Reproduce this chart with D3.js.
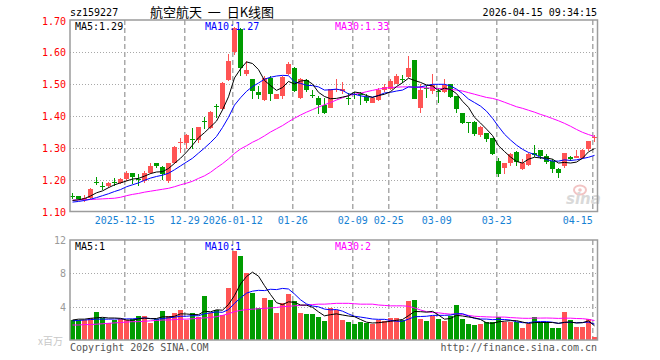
<!DOCTYPE html>
<html><head><meta charset="utf-8">
<script src="https://cdn.jsdelivr.net/npm/d3@7/dist/d3.min.js"></script>
<style>
html,body{margin:0;padding:0;background:#fff;}
svg{display:block;}
text{font-family:"DejaVu Sans Mono","Liberation Mono",monospace;}
</style></head><body>
<svg id="c" width="660" height="360"></svg>
<script>
const code = "sz159227";
const title = "航空航天  一  日K线图";
const stamp = "2026-04-15 09:34:15";
const dates = ["2025-12-02","2025-12-03","2025-12-04","2025-12-05","2025-12-08","2025-12-09","2025-12-10","2025-12-11","2025-12-12","2025-12-15","2025-12-16","2025-12-17","2025-12-18","2025-12-19","2025-12-22","2025-12-23","2025-12-24","2025-12-25","2025-12-26","2025-12-29","2025-12-30","2025-12-31",
"2026-01-05","2026-01-06","2026-01-07","2026-01-08","2026-01-09","2026-01-12","2026-01-13","2026-01-14","2026-01-15","2026-01-16","2026-01-19","2026-01-20","2026-01-21","2026-01-22","2026-01-23","2026-01-26","2026-01-27","2026-01-28","2026-01-29","2026-01-30",
"2026-02-02","2026-02-03","2026-02-04","2026-02-05","2026-02-06","2026-02-09","2026-02-10","2026-02-11","2026-02-12","2026-02-13","2026-02-24","2026-02-25","2026-02-26","2026-02-27",
"2026-03-02","2026-03-03","2026-03-04","2026-03-05","2026-03-06","2026-03-09","2026-03-10","2026-03-11","2026-03-12","2026-03-13","2026-03-16","2026-03-17","2026-03-18","2026-03-19","2026-03-20","2026-03-23","2026-03-24","2026-03-25","2026-03-26","2026-03-27","2026-03-30","2026-03-31",
"2026-04-01","2026-04-02","2026-04-03","2026-04-07","2026-04-08","2026-04-09","2026-04-10","2026-04-13","2026-04-14","2026-04-15"];
const open  = [1.151,1.150,1.137,1.145,1.195,1.180,1.181,1.193,1.190,1.202, 1.223,1.203,1.197,1.223,1.252,1.242,1.197,1.252,1.317,1.317, 1.328,1.324,1.385,1.364,1.432,1.421,1.511,1.600,1.671,1.530, 1.515,1.476,1.449,1.520,1.454,1.462,1.530,1.551,1.455,1.511, 1.465,1.455,1.434,1.426,1.480,1.477,1.457,1.470,1.468,1.459, 1.440,1.449,1.480,1.483,1.501,1.515,1.522,1.574,1.424,1.489, 1.478,1.477,1.476,1.499,1.462,1.410,1.380,1.382,1.340,1.346, 1.330,1.259,1.236,1.252,1.289,1.233,1.247,1.285,1.294,1.275, 1.259,1.233,1.244,1.272,1.270,1.270,1.298,1.333];
const high  = [1.158,1.151,1.152,1.176,1.209,1.194,1.194,1.205,1.207,1.228, 1.223,1.218,1.228,1.254,1.253,1.245,1.253,1.305,1.330,1.343, 1.364,1.367,1.397,1.416,1.439,1.505,1.593,1.678,1.675,1.572, 1.516,1.494,1.525,1.525,1.470,1.524,1.569,1.553,1.518,1.515, 1.480,1.462,1.457,1.485,1.515,1.506,1.473,1.476,1.476,1.470, 1.459,1.489,1.501,1.515,1.530,1.528,1.588,1.575,1.499,1.494, 1.530,1.486,1.517,1.501,1.462,1.410,1.381,1.383,1.368,1.348, 1.332,1.268,1.254,1.285,1.290,1.265,1.285,1.309,1.294,1.282, 1.265,1.239,1.285,1.275,1.293,1.296,1.322,1.341];
const low   = [1.142,1.136,1.130,1.140,1.184,1.168,1.176,1.181,1.186,1.197, 1.186,1.181,1.190,1.220,1.236,1.200,1.192,1.250,1.285,1.296, 1.296,1.317,1.358,1.360,1.395,1.418,1.510,1.590,1.525,1.525, 1.452,1.452,1.447,1.447,1.452,1.452,1.528,1.476,1.452,1.476, 1.457,1.405,1.407,1.424,1.476,1.468,1.434,1.452,1.434,1.440, 1.440,1.447,1.476,1.480,1.500,1.504,1.520,1.452,1.410,1.457, 1.470,1.442,1.473,1.457,1.410,1.374,1.348,1.337,1.335,1.320, 1.278,1.209,1.218,1.244,1.244,1.230,1.244,1.272,1.265,1.249, 1.223,1.207,1.239,1.259,1.270,1.265,1.290,1.320];
const close = [1.150,1.140,1.145,1.173,1.193,1.179,1.190,1.192,1.202,1.221, 1.210,1.202,1.223,1.244,1.244,1.218,1.252,1.304,1.320,1.341, 1.327,1.367,1.383,1.413,1.430,1.504,1.572,1.675,1.551,1.543, 1.478,1.466,1.518,1.470,1.468,1.523,1.562,1.478,1.515,1.480, 1.464,1.434,1.410,1.483,1.485,1.485,1.452,1.469,1.467,1.447, 1.455,1.480,1.491,1.509,1.525,1.514,1.551,1.454,1.480,1.488, 1.497,1.476,1.496,1.460,1.421,1.379,1.379,1.343,1.366,1.327, 1.280,1.220,1.252,1.282,1.257,1.254,1.282,1.278,1.275,1.257, 1.233,1.223,1.285,1.265,1.275,1.293,1.322,1.335];
const ma5  = [1.136,1.138,1.142,1.150,1.160,1.166,1.176,1.185,1.191,1.197, 1.203,1.205,1.212,1.220,1.225,1.226,1.236,1.252,1.268,1.287, 1.309,1.332,1.348,1.366,1.384,1.419,1.460,1.519,1.547,1.569, 1.564,1.545,1.511,1.495,1.480,1.489,1.508,1.500,1.509,1.512, 1.500,1.474,1.461,1.454,1.455,1.459,1.463,1.475,1.472,1.464, 1.458,1.464,1.468,1.476,1.492,1.504,1.518,1.511,1.505,1.497, 1.494,1.479,1.487,1.483,1.470,1.446,1.427,1.396,1.378,1.359, 1.339,1.307,1.289,1.272,1.258,1.253,1.265,1.271,1.269,1.269, 1.265,1.253,1.255,1.253,1.256,1.268,1.288,1.298];
const ma10 = [1.131,1.133,1.136,1.140,1.145,1.151,1.157,1.164,1.170,1.179, 1.185,1.191,1.199,1.206,1.211,1.215,1.221,1.232,1.244,1.256, 1.268,1.284,1.300,1.317,1.336,1.364,1.396,1.434,1.457,1.477, 1.492,1.503,1.515,1.521,1.525,1.527,1.526,1.506,1.502,1.496, 1.495,1.491,1.481,1.482,1.484,1.480,1.469,1.468,1.463,1.460, 1.459,1.464,1.472,1.474,1.478,1.481,1.491,1.490,1.491,1.495, 1.499,1.499,1.499,1.494,1.484,1.470,1.453,1.442,1.431,1.415, 1.393,1.367,1.343,1.325,1.309,1.296,1.286,1.280,1.271,1.264, 1.259,1.259,1.263,1.261,1.263,1.267,1.271,1.277];
const ma30 = [1.137,1.138,1.138,1.139,1.140,1.141,1.142,1.143,1.146,1.151, 1.155,1.158,1.162,1.165,1.168,1.171,1.174,1.179,1.185,1.190, 1.196,1.205,1.213,1.224,1.238,1.251,1.266,1.283,1.297,1.307, 1.318,1.327,1.338,1.350,1.360,1.370,1.382,1.393,1.403,1.412, 1.420,1.428,1.435,1.442,1.450,1.457,1.464,1.468,1.471,1.476, 1.480,1.484,1.487,1.489,1.490,1.491,1.491,1.490,1.489,1.488, 1.487,1.486,1.485,1.483,1.481,1.478,1.473,1.468,1.463,1.458, 1.455,1.450,1.443,1.436,1.429,1.424,1.418,1.412,1.405,1.399, 1.392,1.385,1.377,1.368,1.358,1.349,1.342,1.336];
const volume = [2.4,2.4,2.4,2.7,3.4,2.7,2.0,2.4,2.5,2.4, 2.5,2.9,2.9,2.1,2.5,3.5,2.9,3.2,3.6,2.4, 3.2,2.8,5.3,3.2,3.6,3.0,6.2,10.7,10.1,8.1, 5.6,3.8,5.0,4.8,3.2,4.4,5.5,4.7,3.2,3.1, 3.1,2.8,2.3,3.9,3.6,2.4,2.2,1.9,2.2,2.0, 1.9,2.4,2.3,2.6,2.6,2.4,4.7,4.8,2.5,2.3, 2.9,2.5,2.3,2.9,4.2,2.5,1.9,1.8,1.9,2.2, 2.2,2.8,2.2,2.2,2.2,1.4,1.9,2.8,2.2,2.2, 1.4,1.4,3.4,2.4,1.6,1.6,2.5,0.4];
const volMa5  = [2.40,2.50,2.50,2.60,2.66,2.72,2.64,2.64,2.60,2.40, 2.36,2.54,2.64,2.56,2.58,2.78,2.78,2.84,3.14,3.12, 3.06,3.04,3.46,3.38,3.62,3.58,4.26,5.34,6.72,7.62, 8.14,7.66,6.52,5.46,4.48,4.24,4.58,4.52,4.20,4.18, 3.92,3.38,2.90,3.04,3.14,3.00,2.88,2.80,2.46,2.14, 2.04,2.08,2.16,2.24,2.36,2.46,2.92,3.42,3.40,3.34, 3.44,3.00,2.50,2.58,2.96,2.88,2.76,2.66,2.46,2.06, 2.00,2.18,2.26,2.32,2.32,2.16,1.98,2.10,2.10,2.10, 2.10,2.00,2.12,2.16,2.04,2.08,2.30,1.70];
const volMa10 = [2.30,2.35,2.40,2.45,2.50,2.50,2.50,2.52,2.53,2.53, 2.54,2.59,2.64,2.58,2.49,2.57,2.66,2.74,2.85,2.85, 2.92,2.91,3.15,3.26,3.37,3.32,3.65,4.40,5.05,5.62, 5.86,5.96,5.93,6.09,6.05,6.19,6.12,5.52,4.83,4.33, 4.08,3.98,3.71,3.62,3.66,3.46,3.13,2.85,2.75,2.64, 2.52,2.48,2.48,2.35,2.25,2.25,2.50,2.79,2.82,2.85, 2.95,2.96,2.96,2.99,3.15,3.16,2.88,2.58,2.52,2.51, 2.44,2.47,2.46,2.39,2.19,2.08,2.08,2.18,2.21,2.21, 2.13,1.99,2.11,2.13,2.07,2.09,2.15,1.91];
const volMa30 = [1.80,1.80,1.85,1.85,1.90,1.95,2.00,2.05,2.10,2.15, 2.20,2.20,2.25,2.30,2.35,2.40,2.40,2.45,2.50,2.50, 2.55,2.60,2.65,2.70,2.80,2.95,3.15,3.40,3.55,3.65, 3.70,3.75,3.80,3.85,3.90,4.00,4.05,4.10,4.15,4.20, 4.25,4.30,4.30,4.35,4.40,4.40,4.40,4.35,4.30,4.30, 4.30,4.20,4.15,4.10,4.10,4.10,4.05,3.85,3.60,3.40, 3.30,3.26,3.17,3.10,3.14,3.07,2.95,2.85,2.81,2.78, 2.75,2.75,2.75,2.69,2.65,2.61,2.60,2.63,2.63,2.64, 2.62,2.59,2.62,2.62,2.58,2.56,2.48,2.34];
const priceTicks = [1.10,1.20,1.30,1.40,1.50,1.60,1.70];
const volTicks = [4,8,12];
const tickDates  = ["2025-12-15","2025-12-29","2026-01-12","2026-01-26","2026-02-09","2026-02-25","2026-03-09","2026-03-23","2026-04-15"];
const tickLabels = ["2025-12-15","12-29","2026-01-12","01-26","02-09","02-25","03-09","03-23","04-15"];
const priceLegend = ["MA5:1.29","MA10:1.27","MA30:1.33"];
const volLegend = ["MA5:1","MA10:1","MA30:2"];
const volUnit = "x百万";
const copyright = "Copyright 2026 SINA.COM";
const siteUrl = "http://finance.sina.com.cn";

const RED = "#ff5454", GREEN = "#009c00";
const L = 70, R = 597.5;
const svg = d3.select("#c");
const n = dates.length;
const x = d3.scaleBand().domain(d3.range(n)).range([70, 597]).paddingInner(1/6).paddingOuter(0);
const cx = i => x(i) + 2.5;
const y = d3.scaleLinear().domain([1.10, 1.70]).range([212, 20]);
const yv = d3.scaleLinear().domain([0, 12]).range([340, 240]);
const tickIdx = tickDates.map(d => dates.indexOf(d));

// header texts
svg.append("text").attr("x", 70).attr("y", 16).attr("font-size", 10).attr("fill", "#000").text(code);
svg.append("text").attr("x", 150).attr("y", 16.5).attr("font-size", 13).style("white-space", "pre")
  .style("font-family", '"Noto Sans CJK SC","Noto Sans",sans-serif').attr("fill", "#000").text(title);
svg.append("text").attr("x", 597).attr("y", 16).attr("text-anchor", "end").attr("font-size", 10).attr("fill", "#000").text(stamp);

function panel(top, bottom, hTicks, ys) {
  const g = svg.append("g");
  g.selectAll("line.h").data(hTicks).join("line")
    .attr("x1", L).attr("x2", R).attr("y1", d => Math.round(ys(d)) + 0.5).attr("y2", d => Math.round(ys(d)) + 0.5)
    .attr("stroke", "#a8a8a8").attr("stroke-width", 1).attr("stroke-dasharray", "1,2");
  g.selectAll("line.v").data(tickIdx).join("line")
    .attr("x1", i => x(i) + 0.75).attr("x2", i => x(i) + 0.75).attr("y1", top).attr("y2", bottom)
    .attr("stroke", "#aaaaaa").attr("stroke-width", 1.5).attr("stroke-dasharray", "5,3");
  return g;
}
panel(20, 211.5, [1.20,1.30,1.40,1.50,1.60], y);
panel(240, 340, [4,8], yv);

// sina watermark
const wm = svg.append("g");
wm.append("ellipse").attr("cx", 580).attr("cy", 190).attr("rx", 6).attr("ry", 4.5).attr("fill", "none").attr("stroke", "#f2c4c4").attr("stroke-width", 2);
wm.append("circle").attr("cx", 580).attr("cy", 190).attr("r", 1.8).attr("fill", "#f2c4c4");
wm.append("text").attr("x", 566).attr("y", 204).attr("font-size", 15).attr("font-weight", "bold").attr("font-style", "italic")
  .style("font-family", '"DejaVu Sans",sans-serif').attr("fill", "#d9d9d9").text("sina");

// price axis labels
svg.append("g").selectAll("text").data(priceTicks).join("text")
  .attr("x", 66).attr("y", d => y(d) + (d === 1.70 ? 5 : 4)).attr("text-anchor", "end")
  .attr("font-size", 10).attr("fill", "#ff0000").text(d => d3.format(".2f")(d));

// volume axis labels
svg.append("g").selectAll("text").data(volTicks).join("text")
  .attr("x", 66).attr("y", d => yv(d) + 4).attr("text-anchor", "end")
  .attr("font-size", 10).attr("fill", "#9a9a9a").text(d => d);
svg.append("text").attr("x", 38).attr("y", 345).attr("font-size", 10)
  .style("font-family", '"Noto Sans CJK SC",sans-serif').attr("fill", "#c8c8c8").text(volUnit);

// date labels
const lab = svg.append("g");
tickIdx.forEach((i, k) => {
  const w = tickLabels[k].length * 6.02;
  const gx = x(i) + 0.75;
  const over = gx + w / 2 > 597;
  lab.append("text").attr("x", gx).attr("y", 224)
    .attr("text-anchor", over ? "end" : "middle").attr("font-size", 10).attr("fill", "#1682d4").text(tickLabels[k]);
});

// candles
const cg = svg.append("g");
const up = i => close[i] >= open[i];
cg.selectAll("line").data(d3.range(n)).join("line")
  .attr("x1", i => cx(i)).attr("x2", i => cx(i))
  .attr("y1", i => y(high[i])).attr("y2", i => y(low[i]))
  .attr("stroke", i => up(i) ? RED : GREEN).attr("stroke-width", 1).attr("shape-rendering", "crispEdges");
cg.selectAll("rect").data(d3.range(n)).join("rect")
  .attr("x", i => x(i)).attr("width", x.bandwidth())
  .attr("y", i => y(Math.max(open[i], close[i])))
  .attr("height", i => Math.max(1, Math.abs(y(open[i]) - y(close[i]))))
  .attr("fill", i => up(i) ? RED : GREEN).attr("shape-rendering", "crispEdges");

// volume bars
svg.append("g").selectAll("rect").data(d3.range(n)).join("rect")
  .attr("x", i => x(i)).attr("width", x.bandwidth())
  .attr("y", i => yv(volume[i])).attr("height", i => yv(0) - yv(volume[i]))
  .attr("fill", i => up(i) ? RED : GREEN).attr("shape-rendering", "crispEdges");

// MA lines
function maLine(arr, ys, color) {
  svg.append("path").datum(arr)
    .attr("d", d3.line().x((d, i) => cx(i)).y(d => ys(d)))
    .attr("fill", "none").attr("stroke", color).attr("stroke-width", 1);
}
maLine(ma30, y, "#ff00ff"); maLine(ma10, y, "#0000ff"); maLine(ma5, y, "#000000");
maLine(volMa30, yv, "#ff00ff"); maLine(volMa10, yv, "#0000ff"); maLine(volMa5, yv, "#000000");

// frames
svg.append("rect").attr("x", 70).attr("y", 20).attr("width", 527.5).attr("height", 191.5)
  .attr("fill", "none").attr("stroke", "#9c9c9c").attr("stroke-width", 1.5);
svg.append("rect").attr("x", 70).attr("y", 240).attr("width", 527.5).attr("height", 100)
  .attr("fill", "none").attr("stroke", "#9c9c9c").attr("stroke-width", 1.5);

// legends
const legX = [75, 205, 335], legC = ["#000000", "#0000ff", "#ff00ff"];
priceLegend.forEach((t, k) => svg.append("text").attr("x", legX[k]).attr("y", 30).attr("font-size", 10).attr("fill", legC[k]).text(t));
volLegend.forEach((t, k) => svg.append("text").attr("x", legX[k]).attr("y", 250).attr("font-size", 10).attr("fill", legC[k]).text(t));

// footer
svg.append("text").attr("x", 70).attr("y", 351).attr("font-size", 10).attr("fill", "#555").text(copyright);
svg.append("text").attr("x", 597).attr("y", 351).attr("text-anchor", "end").attr("font-size", 10).attr("fill", "#555").text(siteUrl);
</script>
</body></html>
